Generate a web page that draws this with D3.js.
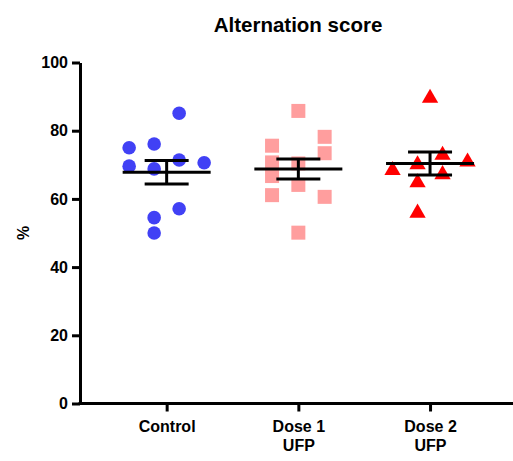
<!DOCTYPE html>
<html>
<head>
<meta charset="utf-8">
<script src="https://cdn.jsdelivr.net/npm/d3@7"></script>
<style>
  body { margin: 0; background: #fff; }
  text { font-family: "Liberation Sans", Arial, sans-serif; font-weight: bold; fill: #000; }
</style>
</head>
<body>
<div id="chart"></div>
<script>
// groups and their values
const groups = ["Control", "Dose 1\nUFP", "Dose 2\nUFP"];
const control = [85.1, 75.0, 76.1, 69.6, 68.8, 71.4, 70.6, 57.1, 54.5, 50.0];
const dose1 = [85.8, 75.6, 78.2, 73.4, 70.7, 66.7, 70.4, 64.1, 61.1, 60.6, 50.1];
const dose2 = [90.0, 68.8, 70.5, 73.3, 71.3, 67.6, 65.2, 56.3];
// scatter lane of each point
const controlLane = [0.5, -1.5, -0.5, -1.5, -0.5, 0.5, 1.5, 0.5, -0.5, -0.5];
const dose1Lane = [0, -1, 1, 1, -1, -1, 0, 0, -1, 1, 0];
const dose2Lane = [0, -1.5, -0.5, 0.5, 1.5, 0.5, -0.5, -0.5];
const yTicks = [0, 20, 40, 60, 80, 100];

const seriesList = [
  {name: groups[0], values: control, lanes: controlLane, color: "#4141F5", shape: d3.symbolCircle, laneW: 25},
  {name: groups[1], values: dose1, lanes: dose1Lane, color: "#FF9E9E", shape: d3.symbolSquare, laneW: 26.3},
  {name: groups[2], values: dose2, lanes: dose2Lane, color: "#FF0000", shape: d3.symbolTriangle, laneW: 25}
];

const width = 513, height = 461;
const svg = d3.select("#chart").append("svg")
  .attr("width", width).attr("height", height);

const x = d3.scalePoint().domain(groups).range([80, 516.7]).padding(0.658);
const y = d3.scaleLinear().domain([0, 100]).range([403.5, 62.5]);

// title
svg.append("text")
  .attr("x", 298).attr("y", 32)
  .attr("text-anchor", "middle")
  .style("font-size", "20.5px")
  .text("Alternation score");

// y axis
const yAxis = svg.append("g")
  .attr("transform", "translate(80,0)")
  .call(d3.axisLeft(y).tickValues(yTicks).tickSize(8).tickPadding(4).tickSizeOuter(0));
yAxis.select(".domain").attr("stroke", "#000").attr("stroke-width", 3);
yAxis.selectAll(".tick line").attr("stroke", "#000").attr("stroke-width", 3);
yAxis.selectAll(".tick text").style("font-size", "16px").attr("font-family", null);

svg.append("text")
  .attr("transform", "translate(29,233) rotate(-90)")
  .attr("text-anchor", "middle")
  .style("font-size", "16px")
  .text("%");

// x axis
const xAxis = svg.append("g")
  .attr("transform", "translate(0,403.5)")
  .call(d3.axisBottom(x).tickSize(8).tickSizeOuter(0).tickFormat(""));
xAxis.select(".domain").attr("d", "M78.5,0H513").attr("stroke", "#000").attr("stroke-width", 3);
xAxis.selectAll(".tick line").attr("stroke", "#000").attr("stroke-width", 3);
xAxis.selectAll(".tick").each(function(d) {
  const t = d3.select(this).append("text")
    .attr("text-anchor", "middle")
    .style("font-size", "16px");
  d.split("\n").forEach((line, i) => {
    t.append("tspan").attr("x", 0).attr("y", 28 + i * 19).text(line);
  });
});

// points
seriesList.forEach(s => {
  const cx = x(s.name);
  svg.append("g").selectAll("path")
    .data(s.values)
    .join("path")
    .attr("d", d3.symbol().type(s.shape).size(s.shape === d3.symbolTriangle ? 115 : (s.shape === d3.symbolSquare ? 196 : 145)))
    .attr("transform", (v, i) => {
      const dy = s.shape === d3.symbolTriangle ? 1.5 : 0;
      return "translate(" + (cx + s.lanes[i] * s.laneW) + "," + (y(v) + dy) + ")";
    })
    .attr("fill", s.color);

  // mean and SEM
  const m = d3.mean(s.values);
  const sem = d3.deviation(s.values) / Math.sqrt(s.values.length);
  const g = svg.append("g").attr("stroke", "#000").attr("stroke-width", 3);
  g.append("line").attr("x1", cx - 44).attr("x2", cx + 44).attr("y1", y(m)).attr("y2", y(m));
  g.append("line").attr("x1", cx).attr("x2", cx).attr("y1", y(m + sem)).attr("y2", y(m - sem));
  g.append("line").attr("x1", cx - 22).attr("x2", cx + 22).attr("y1", y(m + sem)).attr("y2", y(m + sem));
  g.append("line").attr("x1", cx - 22).attr("x2", cx + 22).attr("y1", y(m - sem)).attr("y2", y(m - sem));
});
</script>
</body>
</html>
